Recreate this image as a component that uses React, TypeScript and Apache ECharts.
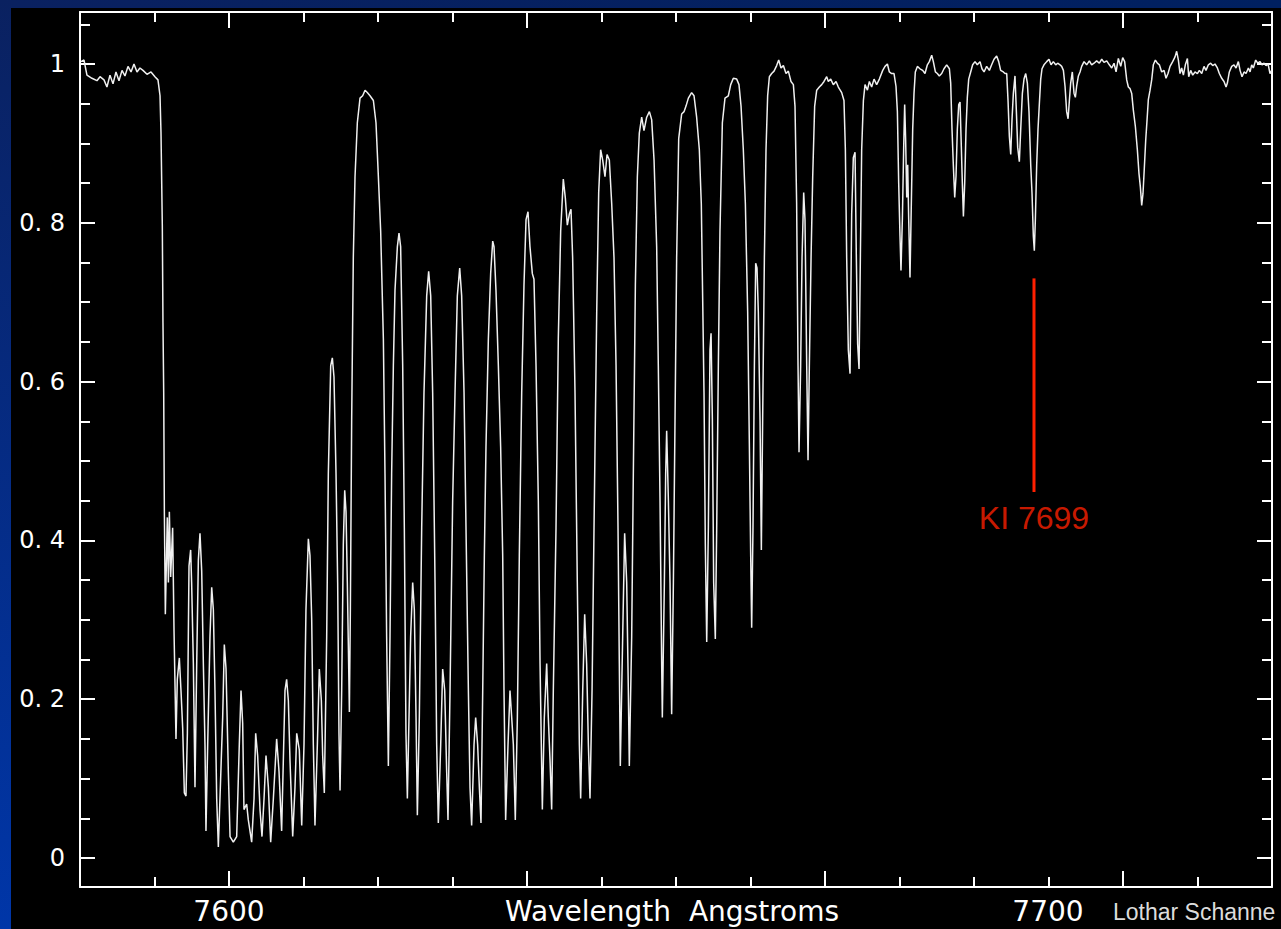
import React, { useEffect, useRef } from "react";
import * as echarts from "echarts";

// Spectrum: [wavelength (Angstrom), relative flux]
const spectrum: number[][] = [
  [7581.93, 1.003], [7582.3, 1.005], [7582.66, 0.986], [7583.27, 0.982], [7583.88, 0.979],
  [7584.25, 0.984], [7584.74, 0.98], [7585.1, 0.971], [7585.47, 0.986], [7585.84, 0.975],
  [7586.2, 0.99], [7586.57, 0.979], [7586.94, 0.992], [7587.3, 0.985], [7587.67, 0.997],
  [7588.04, 0.99], [7588.4, 1.0], [7588.77, 0.99], [7589.13, 0.995], [7589.5, 0.992],
  [7589.99, 0.987], [7590.48, 0.99], [7590.96, 0.984], [7591.33, 0.98],
  [7591.58, 0.96], [7591.7, 0.913], [7591.86, 0.797], [7591.94, 0.674], [7592.03, 0.586],
  [7592.11, 0.436], [7592.23, 0.307], [7592.47, 0.429], [7592.6, 0.347], [7592.72, 0.436],
  [7592.88, 0.354], [7593.12, 0.416], [7593.29, 0.286], [7593.53, 0.15], [7593.69, 0.225],
  [7593.94, 0.252], [7594.14, 0.211], [7594.35, 0.163], [7594.55, 0.082], [7594.75, 0.078],
  [7594.92, 0.157], [7595.12, 0.368], [7595.32, 0.388], [7595.44, 0.347], [7595.65, 0.245],
  [7595.85, 0.089], [7596.06, 0.245], [7596.26, 0.375], [7596.46, 0.409], [7596.67, 0.361],
  [7596.87, 0.245], [7597.07, 0.143], [7597.19, 0.034], [7597.4, 0.143], [7597.68, 0.279],
  [7597.89, 0.341], [7598.09, 0.313], [7598.29, 0.211], [7598.5, 0.075], [7598.7, 0.014],
  [7598.9, 0.075], [7599.23, 0.177], [7599.43, 0.269], [7599.64, 0.238], [7599.92, 0.109],
  [7600.13, 0.027], [7600.53, 0.02], [7600.94, 0.027], [7601.26, 0.143], [7601.47, 0.211],
  [7601.67, 0.17], [7601.83, 0.061], [7602.16, 0.068], [7602.36, 0.048], [7602.77, 0.02],
  [7603.06, 0.075], [7603.26, 0.157], [7603.5, 0.129], [7603.79, 0.061], [7604.03, 0.027],
  [7604.28, 0.075], [7604.52, 0.129], [7604.81, 0.089], [7605.09, 0.02], [7605.42, 0.075],
  [7605.82, 0.15], [7606.11, 0.109],
  [7606.43, 0.034], [7606.84, 0.211], [7607.04, 0.225], [7607.25, 0.198], [7607.45, 0.123],
  [7607.78, 0.027], [7608.06, 0.089], [7608.27, 0.157], [7608.59, 0.136], [7608.88, 0.041],
  [7609.16, 0.143], [7609.4, 0.313], [7609.69, 0.402], [7609.89, 0.381], [7610.1, 0.3],
  [7610.3, 0.143], [7610.5, 0.041], [7610.79, 0.143], [7611.03, 0.238], [7611.28, 0.198],
  [7611.44, 0.129], [7611.64, 0.082], [7611.93, 0.279], [7612.13, 0.484], [7612.42, 0.62],
  [7612.62, 0.63], [7612.82, 0.606], [7613.07, 0.484], [7613.27, 0.347], [7613.43, 0.157],
  [7613.56, 0.085], [7613.76, 0.211], [7613.96, 0.395], [7614.13, 0.463], [7614.29, 0.436],
  [7614.45, 0.347], [7614.61, 0.245], [7614.7, 0.184], [7614.82, 0.313], [7614.98, 0.552],
  [7615.18, 0.756], [7615.39, 0.858], [7615.67, 0.926], [7616.0, 0.957], [7616.32, 0.96],
  [7616.61, 0.967], [7616.89, 0.964], [7617.22, 0.96], [7617.63, 0.954], [7617.95, 0.926],
  [7618.24, 0.858], [7618.52, 0.79], [7618.85, 0.654], [7619.05, 0.484], [7619.25, 0.279],
  [7619.46, 0.116], [7619.66, 0.279], [7619.86, 0.484], [7620.07, 0.62], [7620.27, 0.715],
  [7620.56, 0.77], [7620.76, 0.787], [7620.96, 0.77], [7621.21, 0.62], [7621.41, 0.416],
  [7621.61, 0.157], [7621.78, 0.075], [7621.98, 0.177], [7622.18, 0.279], [7622.43, 0.347],
  [7622.63, 0.313], [7622.84, 0.177], [7623.0, 0.054], [7623.24, 0.177], [7623.53, 0.416],
  [7623.81, 0.586], [7624.14, 0.708], [7624.38, 0.739], [7624.63, 0.708], [7624.87, 0.586],
  [7625.16, 0.347], [7625.36, 0.143], [7625.56, 0.044], [7625.85, 0.143], [7626.09, 0.238],
  [7626.34, 0.211], [7626.58, 0.109], [7626.74, 0.048], [7626.99, 0.211], [7627.31, 0.45],
  [7627.6, 0.586], [7627.88, 0.708], [7628.17, 0.743], [7628.41, 0.708], [7628.7, 0.586],
  [7628.94, 0.416], [7629.23, 0.211], [7629.43, 0.089], [7629.63, 0.041], [7629.92, 0.143],
  [7630.12, 0.177], [7630.36, 0.143], [7630.57, 0.089],
  [7630.77, 0.044], [7630.98, 0.211], [7631.18, 0.381], [7631.38, 0.518], [7631.67, 0.654],
  [7631.95, 0.736], [7632.2, 0.777], [7632.36, 0.77], [7632.6, 0.715], [7632.89, 0.62],
  [7633.17, 0.518], [7633.42, 0.381], [7633.58, 0.211], [7633.78, 0.048], [7634.07, 0.143],
  [7634.31, 0.211], [7634.52, 0.177], [7634.72, 0.143], [7634.96, 0.048], [7635.21, 0.177],
  [7635.45, 0.381], [7635.74, 0.586], [7636.02, 0.722], [7636.27, 0.804], [7636.51, 0.814],
  [7636.75, 0.77], [7637.04, 0.736], [7637.24, 0.729], [7637.49, 0.62], [7637.77, 0.45],
  [7637.98, 0.245], [7638.26, 0.061], [7638.5, 0.177], [7638.79, 0.245], [7638.99, 0.177],
  [7639.2, 0.123], [7639.4, 0.061], [7639.6, 0.211], [7639.93, 0.416], [7640.21, 0.654],
  [7640.5, 0.79], [7640.82, 0.855], [7641.07, 0.831], [7641.31, 0.797], [7641.56, 0.811],
  [7641.76, 0.817], [7641.96, 0.756], [7642.25, 0.586], [7642.53, 0.347], [7642.78, 0.143],
  [7642.94, 0.075], [7643.19, 0.211], [7643.43, 0.307], [7643.67, 0.245], [7643.88, 0.143],
  [7644.08, 0.075], [7644.33, 0.211], [7644.57, 0.416], [7644.9, 0.688], [7645.14, 0.838],
  [7645.38, 0.892], [7645.63, 0.879], [7645.91, 0.858], [7646.16, 0.886], [7646.44, 0.879],
  [7646.73, 0.824], [7647.01, 0.756], [7647.26, 0.62], [7647.5, 0.416], [7647.66, 0.245],
  [7647.78, 0.116], [7648.07, 0.279], [7648.31, 0.409], [7648.56, 0.347], [7648.76, 0.211],
  [7648.88, 0.116], [7649.17, 0.279], [7649.37, 0.484], [7649.62, 0.722], [7649.86, 0.858],
  [7650.1, 0.913], [7650.39, 0.933], [7650.67, 0.916], [7651.0, 0.933], [7651.33, 0.94],
  [7651.61, 0.93], [7651.9, 0.879], [7652.22, 0.77], [7652.42, 0.62], [7652.63, 0.45],
  [7652.83, 0.245], [7652.91, 0.177], [7653.16, 0.347], [7653.32, 0.484], [7653.44, 0.538],
  [7653.65, 0.45], [7653.85, 0.347], [7654.05, 0.181], [7654.26, 0.347], [7654.46, 0.552],
  [7654.66, 0.756], [7654.91, 0.906],
  [7655.27, 0.937], [7655.56, 0.94], [7655.8, 0.947], [7656.09, 0.957], [7656.49, 0.964],
  [7656.78, 0.96], [7657.1, 0.933], [7657.43, 0.892], [7657.67, 0.824], [7657.84, 0.702],
  [7658.0, 0.586], [7658.16, 0.395], [7658.33, 0.272], [7658.53, 0.416], [7658.73, 0.64],
  [7658.86, 0.661], [7659.02, 0.552], [7659.18, 0.347], [7659.38, 0.276], [7659.55, 0.416],
  [7659.75, 0.62], [7659.95, 0.79], [7660.24, 0.926], [7660.56, 0.957], [7660.97, 0.96],
  [7661.26, 0.974], [7661.58, 0.982], [7661.99, 0.981], [7662.27, 0.974], [7662.52, 0.947],
  [7662.8, 0.892], [7663.05, 0.824], [7663.33, 0.688], [7663.54, 0.518], [7663.7, 0.381],
  [7663.82, 0.29], [7663.98, 0.416], [7664.15, 0.62], [7664.31, 0.749], [7664.47, 0.743],
  [7664.63, 0.688], [7664.84, 0.552], [7665.0, 0.388], [7665.16, 0.552], [7665.37, 0.756],
  [7665.57, 0.892], [7665.77, 0.96], [7665.98, 0.984], [7666.26, 0.988], [7666.55, 0.991],
  [7666.87, 0.998], [7667.12, 1.005], [7667.4, 0.995], [7667.69, 0.998], [7668.01, 0.988],
  [7668.3, 0.991], [7668.62, 0.978], [7668.91, 0.974], [7669.11, 0.947], [7669.31, 0.824],
  [7669.48, 0.62], [7669.6, 0.511], [7669.8, 0.62], [7669.97, 0.756], [7670.17, 0.838],
  [7670.33, 0.804], [7670.54, 0.62], [7670.7, 0.501], [7670.86, 0.62], [7671.07, 0.756],
  [7671.27, 0.858], [7671.51, 0.947], [7671.76, 0.967], [7672.08, 0.971], [7672.37, 0.974],
  [7672.65, 0.978], [7672.98, 0.984], [7673.18, 0.978], [7673.47, 0.981], [7673.79, 0.974],
  [7674.12, 0.978], [7674.4, 0.971], [7674.81, 0.964], [7675.09, 0.954], [7675.26, 0.892],
  [7675.42, 0.756], [7675.62, 0.64], [7675.83, 0.61], [7676.03, 0.811], [7676.23, 0.882],
  [7676.44, 0.889], [7676.6, 0.756], [7676.76, 0.647], [7676.93, 0.616], [7677.09, 0.756],
  [7677.25, 0.892], [7677.46, 0.954], [7677.66, 0.974], [7677.95, 0.967], [7678.19, 0.978],
  [7678.47, 0.971], [7678.76, 0.981], [7679.08, 0.974], [7679.41, 0.981],
  [7679.82, 0.992], [7680.1, 0.997], [7680.39, 1.0], [7680.63, 0.99], [7680.91, 0.988],
  [7681.2, 0.988], [7681.44, 0.972], [7681.61, 0.94], [7681.77, 0.85], [7681.93, 0.783],
  [7682.05, 0.74], [7682.22, 0.805], [7682.38, 0.895], [7682.5, 0.949], [7682.62, 0.904],
  [7682.75, 0.832], [7682.87, 0.873], [7682.99, 0.805], [7683.15, 0.731], [7683.32, 0.828],
  [7683.48, 0.918], [7683.64, 0.963], [7683.8, 0.99], [7684.05, 0.997], [7684.37, 0.994],
  [7684.7, 0.992], [7684.98, 0.988], [7685.27, 0.999], [7685.51, 1.003], [7685.8, 1.011],
  [7686.0, 1.003], [7686.25, 0.99], [7686.49, 0.988], [7686.73, 0.985], [7687.02, 0.988],
  [7687.3, 0.994], [7687.63, 0.999], [7687.96, 0.994], [7688.12, 0.976], [7688.28, 0.918],
  [7688.44, 0.873], [7688.61, 0.832], [7688.77, 0.859], [7688.93, 0.918], [7689.1, 0.949],
  [7689.26, 0.952], [7689.42, 0.895], [7689.54, 0.85], [7689.67, 0.808], [7689.83, 0.85],
  [7689.99, 0.918], [7690.15, 0.958], [7690.32, 0.981], [7690.56, 0.99], [7690.8, 0.999],
  [7691.09, 1.003], [7691.37, 0.999], [7691.7, 1.003], [7691.94, 0.994], [7692.19, 0.99],
  [7692.51, 0.997], [7692.84, 0.992], [7693.12, 0.999], [7693.41, 1.006], [7693.73, 1.01],
  [7693.98, 1.003], [7694.22, 0.992], [7694.55, 0.99], [7694.75, 0.988], [7694.96, 0.988],
  [7695.12, 0.954], [7695.28, 0.909], [7695.45, 0.886], [7695.61, 0.931], [7695.77, 0.963],
  [7695.97, 0.985], [7696.14, 0.94], [7696.3, 0.895], [7696.5, 0.877], [7696.67, 0.918],
  [7696.87, 0.963], [7697.07, 0.981], [7697.28, 0.988], [7697.48, 0.976], [7697.68, 0.94],
  [7697.89, 0.873], [7698.05, 0.837], [7698.21, 0.783], [7698.33, 0.765], [7698.46, 0.805],
  [7698.62, 0.873], [7698.78, 0.918], [7698.94, 0.949], [7699.11, 0.981], [7699.27, 0.994],
  [7699.51, 0.999], [7699.84, 1.003], [7700.12, 1.006], [7700.37, 0.999], [7700.65, 1.003],
  [7700.94, 0.999], [7701.18, 1.001], [7701.47, 0.999], [7701.67, 0.997], [7701.88, 0.992],
  [7702.08, 0.972], [7702.28, 0.94], [7702.45, 0.931], [7702.61, 0.954], [7702.77, 0.976],
  [7702.97, 0.99], [7703.18, 0.963], [7703.34, 0.958], [7703.5, 0.972], [7703.71, 0.985],
  [7703.91, 0.99],
  [7704.11, 0.997], [7704.4, 1.003], [7704.72, 0.999], [7705.05, 1.004], [7705.33, 0.999],
  [7705.62, 1.001], [7705.94, 1.004], [7706.27, 1.001], [7706.56, 1.006], [7706.84, 1.002],
  [7707.17, 1.004], [7707.49, 0.999], [7707.78, 0.995], [7708.06, 1.001], [7708.31, 0.99],
  [7708.59, 1.007], [7708.88, 0.997], [7709.12, 1.008], [7709.36, 1.003], [7709.61, 0.98],
  [7709.81, 0.971], [7710.02, 0.969], [7710.22, 0.963], [7710.42, 0.942], [7710.67, 0.921],
  [7710.91, 0.892], [7711.11, 0.862], [7711.28, 0.845], [7711.44, 0.822], [7711.6, 0.837],
  [7711.77, 0.871], [7711.93, 0.904], [7712.09, 0.929], [7712.25, 0.955], [7712.46, 0.967],
  [7712.66, 0.98], [7712.86, 0.999], [7713.11, 1.005], [7713.35, 1.001], [7713.6, 0.999],
  [7713.88, 0.99], [7714.17, 0.992], [7714.41, 0.982], [7714.65, 0.988], [7714.9, 0.997],
  [7715.22, 1.003], [7715.51, 1.009], [7715.71, 1.016], [7715.92, 1.005], [7716.12, 0.988],
  [7716.32, 0.995], [7716.53, 0.986], [7716.77, 0.999], [7717.02, 1.007], [7717.18, 0.984],
  [7717.42, 0.992], [7717.67, 0.986], [7717.95, 0.99], [7718.24, 0.988], [7718.48, 0.992],
  [7718.77, 0.988], [7719.05, 0.997], [7719.29, 0.992], [7719.58, 0.999], [7719.86, 1.001],
  [7720.11, 0.998], [7720.39, 1.0], [7720.68, 0.995], [7720.92, 0.988], [7721.21, 0.982],
  [7721.49, 0.978], [7721.74, 0.971], [7721.9, 0.976], [7722.14, 0.99], [7722.43, 0.997],
  [7722.71, 0.999], [7722.96, 0.995], [7723.24, 1.003], [7723.45, 0.992], [7723.69, 0.984],
  [7723.94, 0.99], [7724.18, 0.988], [7724.47, 0.995], [7724.67, 0.99], [7724.87, 0.999],
  [7725.07, 0.995], [7725.36, 1.005], [7725.6, 1.001], [7725.89, 1.003], [7726.13, 0.999],
  [7726.38, 1.001], [7726.62, 0.998], [7726.87, 1.0], [7727.11, 0.988], [7727.31, 0.992],
];

// Axis range and ticks
const xMin = 7581.81;
const xMax = 7727.35;
const yMin = -0.0365;
const yMax = 1.0655;
const xLabelValues = [7600, 7700];
const xMajorTicks = [7600, 7636.38, 7672.77, 7709.15];
const xMinorTicks = [7590.9, 7609.1, 7618.19, 7627.29, 7645.48, 7654.58, 7663.67, 7681.86, 7690.96, 7700.06, 7718.25];
const yMajorTicks = [0, 0.2, 0.4, 0.6, 0.8, 1];
const yMinorTicks = [0.05, 0.1, 0.15, 0.25, 0.3, 0.35, 0.45, 0.5, 0.55, 0.65, 0.7, 0.75, 0.85, 0.9, 0.95, 1.05];
const xAxisTitle = "Wavelength  Angstroms";
const credit = "Lothar Schanne";

// KI 7699 marker
const kiLine = [[7698.29, 0.73], [7698.29, 0.461]];
const kiLabel = [[7698.29, 0.428]];

const WHITE = "#ffffff";
const RED = "#ff2000";

function xAxisDef(position: string, ticks: number[], len: number, showLine: boolean, showLabel: boolean) {
  return {
    type: "value",
    position,
    min: xMin,
    max: xMax,
    axisLine: { show: showLine, onZero: false, lineStyle: { color: WHITE, width: 2 } },
    axisTick: { show: true, inside: true, length: len, customValues: ticks, lineStyle: { color: WHITE, width: 2 } },
    axisLabel: {
      show: showLabel,
      customValues: xLabelValues,
      color: WHITE,
      fontSize: 28,
      fontFamily: "DejaVu Sans",
      margin: 10,
      formatter: (v: number) => String(Math.round(v)),
    },
    splitLine: { show: false },
  };
}

function yAxisDef(position: string, ticks: number[], len: number, showLine: boolean, showLabel: boolean) {
  return {
    type: "value",
    position,
    min: yMin,
    max: yMax,
    axisLine: { show: showLine, onZero: false, lineStyle: { color: WHITE, width: 2 } },
    axisTick: { show: true, inside: true, length: len, customValues: ticks, lineStyle: { color: WHITE, width: 2 } },
    axisLabel: {
      show: showLabel,
      customValues: yMajorTicks,
      color: WHITE,
      fontSize: 24,
      fontFamily: "DejaVu Sans",
      margin: 15,
      formatter: (v: number) => {
        if (v === 0) return "0";
        if (v === 1) return "1";
        return v.toFixed(1).replace(".", ". ");
      },
    },
    splitLine: { show: false },
  };
}

export default function App() {
  const ref = useRef<HTMLDivElement>(null);
  useEffect(() => {
    if (!ref.current) return;
    const chart = echarts.init(ref.current, null, { renderer: "svg" });
    const option: any = {
      animation: false,
      backgroundColor: "#000000",
      grid: { left: 80, right: 9, top: 12, bottom: 42, containLabel: false, outerBoundsMode: "none" },
      graphic: [
        {
          type: "rect",
          shape: { x: 0, y: 0, width: 1281, height: 8 },
          style: {
            fill: new echarts.graphic.LinearGradient(0, 0, 1, 0, [
              { offset: 0, color: "#0a2160" },
              { offset: 1, color: "#002060" },
            ]),
          },
          silent: true,
        },
        {
          type: "rect",
          shape: { x: 0, y: 0, width: 11, height: 929 },
          style: {
            fill: new echarts.graphic.LinearGradient(0, 0, 0, 1, [
              { offset: 0, color: "#0a2160" },
              { offset: 1, color: "#0036a8" },
            ]),
          },
          silent: true,
        },
        {
          type: "text",
          x: 672,
          y: 911,
          style: {
            text: xAxisTitle,
            fill: WHITE,
            fontSize: 28,
            fontFamily: "DejaVu Sans",
            textAlign: "center",
            textVerticalAlign: "middle",
          },
          silent: true,
        },
        {
          type: "text",
          x: 1113,
          y: 912,
          style: {
            text: credit,
            fill: "#dcdcdc",
            fontSize: 23,
            fontFamily: "Liberation Sans",
            textVerticalAlign: "middle",
          },
          silent: true,
        },
      ],
      xAxis: [
        xAxisDef("bottom", xMajorTicks, 16, true, true),
        xAxisDef("bottom", xMinorTicks, 10, false, false),
        xAxisDef("top", xMajorTicks, 16, true, false),
        xAxisDef("top", xMinorTicks, 10, false, false),
      ],
      yAxis: [
        yAxisDef("left", yMajorTicks, 15, true, true),
        yAxisDef("left", yMinorTicks, 10, false, false),
        yAxisDef("right", yMajorTicks, 15, true, false),
        yAxisDef("right", yMinorTicks, 10, false, false),
      ],
      series: [
        {
          type: "line",
          name: "spectrum",
          data: spectrum,
          xAxisIndex: 0,
          yAxisIndex: 0,
          showSymbol: false,
          symbol: "none",
          lineStyle: { color: "#f0f0f0", width: 1.5 },
          z: 3,
        },
        {
          type: "line",
          name: "KI 7699",
          data: kiLine,
          xAxisIndex: 0,
          yAxisIndex: 0,
          showSymbol: false,
          symbol: "none",
          lineStyle: { color: RED, width: 3 },
        },
        {
          type: "scatter",
          data: kiLabel,
          xAxisIndex: 0,
          yAxisIndex: 0,
          symbolSize: 0,
          itemStyle: { color: RED },
          label: {
            show: true,
            position: "inside",
            formatter: "KI 7699",
            color: RED,
            textBorderWidth: 0,
            textShadowBlur: 0,
            fontSize: 32,
            fontFamily: "Liberation Sans",
          },
        },
      ],
    };
    chart.setOption(option);
    return () => chart.dispose();
  }, []);
  return (
    <div
      ref={ref}
      style={{ position: "absolute", left: 0, top: 0, width: 1281, height: 929 }}
    />
  );
}
